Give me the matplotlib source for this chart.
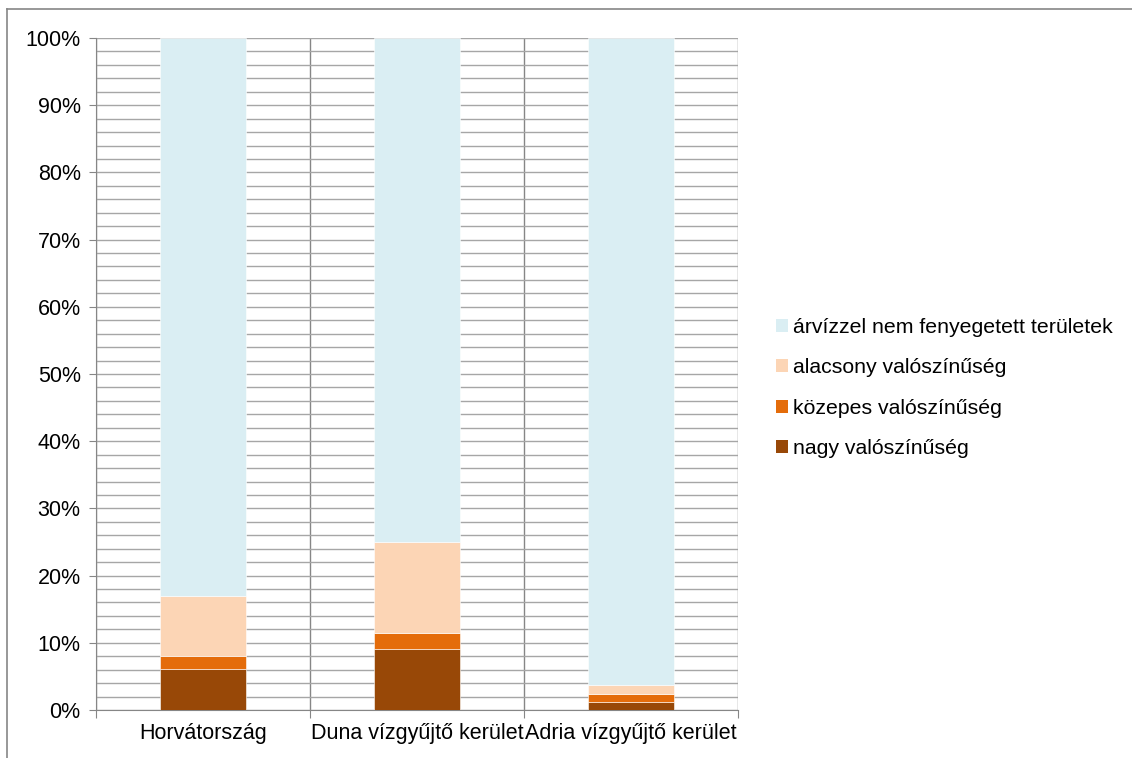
import numpy as np
import matplotlib.pyplot as plt
from matplotlib.patches import Patch
from matplotlib.lines import Line2D

plt.rcParams['font.family'] = ['Liberation Sans', 'DejaVu Sans']

# --- data (percent of area) ---
categories = ['Horvátország', 'Duna vízgyűjtő kerület', 'Adria vízgyűjtő kerület']
nagy = [6.1, 9.1, 1.25]
kozepes = [1.9, 2.4, 1.1]
alacsony = [8.9, 13.5, 1.4]
nem_fenyegetett = [83.1, 75.0, 96.25]

series = [
    ('nagy valószínűség', nagy, '#984807'),
    ('közepes valószínűség', kozepes, '#E46C0A'),
    ('alacsony valószínűség', alacsony, '#FCD5B5'),
    ('árvízzel nem fenyegetett területek', nem_fenyegetett, '#DAEEF3'),
]

fig = plt.figure(figsize=(11.32, 7.58), dpi=100)
ax = fig.add_axes([96 / 1132, 48 / 758, 642 / 1132, 672 / 758])

x = np.arange(len(categories))
bottom = np.zeros(len(categories))
for name, vals, col in series:
    ax.bar(x, vals, 0.4, bottom=bottom, color=col, edgecolor='white',
           linewidth=0.4, zorder=3)
    bottom += np.array(vals)

ax.set_xlim(-0.5, len(categories) - 0.5)
ax.set_ylim(0, 100)

# horizontal grid: major every 10, minor every 2
ax.set_yticks(np.arange(0, 101, 10))
ax.set_yticklabels([f'{v}%' for v in range(0, 101, 10)])
ax.set_yticks(np.arange(0, 101, 2), minor=True)
ax.grid(axis='y', which='both', color='#a6a6a6', linewidth=1.0, zorder=0)
ax.tick_params(axis='y', which='minor', length=0)
ax.tick_params(axis='y', which='major', length=5, color='#868686',
               labelsize=15.5, pad=6)

# vertical lines at category boundaries
for b in np.arange(-0.5, len(categories), 1.0):
    ax.axvline(b, color='#868686', linewidth=1.0, zorder=1)
ax.set_xticks(np.arange(-0.5, len(categories), 1.0))
ax.set_xticklabels([])
ax.tick_params(axis='x', length=6, color='#868686')
for xi, lab in zip(x, categories):
    ax.text(xi, -2.0, lab, ha='center', va='top', fontsize=15.5,
            transform=ax.transData)

for s in ['top', 'right']:
    ax.spines[s].set_visible(False)
for s in ['left', 'bottom']:
    ax.spines[s].set_color('#868686')

handles = [Patch(facecolor=col, label=name) for name, _, col in reversed(series)]
fig.legend(handles=handles, loc='center left', bbox_to_anchor=(776 / 1132, 1 - 388 / 758),
           frameon=False, fontsize=15.3, handlelength=0.56, handleheight=0.56,
           handletextpad=0.25, labelspacing=1.0, borderaxespad=0, borderpad=0)

# outer chart frame (top and left edges visible)
fig.add_artist(Line2D([7 / 1132, 1], [1 - 9 / 758, 1 - 9 / 758], color='#868686',
                      linewidth=1.2, transform=fig.transFigure))
fig.add_artist(Line2D([7 / 1132, 7 / 1132], [0, 1 - 9 / 758], color='#868686',
                      linewidth=1.2, transform=fig.transFigure))

fig.savefig('out.png', dpi=100)
